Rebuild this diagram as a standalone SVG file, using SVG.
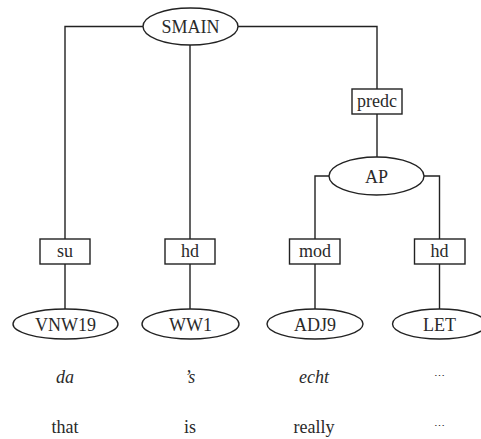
<svg xmlns="http://www.w3.org/2000/svg" width="481" height="439" viewBox="0 0 481 439">
<style>
.e{fill:#fff;stroke:#222;stroke-width:1.4}
.b{fill:#fff;stroke:#222;stroke-width:1.4}
.c{fill:none;stroke:#222;stroke-width:1.4}
text{font-size:18px;fill:#2a2a2a;text-anchor:middle}
.i{font-style:italic}
.d{font-size:11px}
</style>
<rect width="481" height="439" fill="#fff"/>
<g id="connectors">
<path class="c" d="M143,26.5 H65 V239 M238,26.5 H377 V89 M190,45 V239 M65,264 V309 M190,264 V309 M377,114 V157 M329,176 H315 V239 M424,176 H439.5 V239 M315,264 V309 M439.5,264 V309"/>
</g>
<g font-family="Liberation Serif, serif">
<g id="SMAIN"><ellipse class="e" cx="190.5" cy="26.5" rx="47.5" ry="18.5"/><text x="190.5" y="33">SMAIN</text></g>
<g id="predc"><rect class="b" x="352" y="89" width="50" height="25"/><text x="377" y="107">predc</text></g>
<g id="AP"><ellipse class="e" cx="376.5" cy="176" rx="47.5" ry="19"/><text x="376.5" y="183">AP</text></g>
<g id="su"><rect class="b" x="40" y="239" width="50" height="25"/><text x="65" y="257">su</text></g>
<g id="hd1"><rect class="b" x="165" y="239" width="50" height="25"/><text x="190" y="257">hd</text></g>
<g id="mod"><rect class="b" x="289.5" y="239" width="50.5" height="25"/><text x="315" y="257">mod</text></g>
<g id="hd2"><rect class="b" x="414.5" y="239" width="50.5" height="25"/><text x="439.5" y="257">hd</text></g>
<g id="VNW19"><ellipse class="e" cx="65.5" cy="324" rx="52.5" ry="15"/><text x="65.5" y="331">VNW19</text></g>
<g id="WW1"><ellipse class="e" cx="190.5" cy="324" rx="48.5" ry="15"/><text x="190.5" y="331">WW1</text></g>
<g id="ADJ9"><ellipse class="e" cx="315" cy="324" rx="48" ry="15"/><text x="315" y="331">ADJ9</text></g>
<g id="LET"><ellipse class="e" cx="439.5" cy="324" rx="47" ry="15"/><text x="439.5" y="331">LET</text></g>
<g id="words">
<text class="i" x="65" y="383">da</text>
<text class="i" x="190" y="383">’s</text>
<text class="i" x="314" y="383">echt</text>
<text class="d" x="439" y="380">⋯</text>
<text x="65" y="433">that</text>
<text x="190" y="433">is</text>
<text x="314" y="433">really</text>
<text class="d" x="439" y="430">⋯</text>
</g>
</g>
</svg>
